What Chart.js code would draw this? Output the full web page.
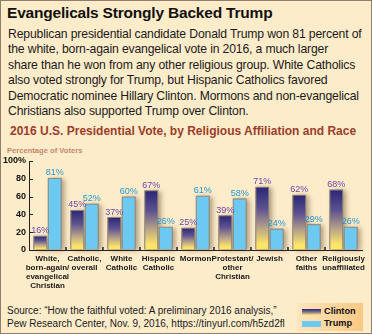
<!DOCTYPE html>
<html>
<head>
<meta charset="utf-8">
<script src="https://cdn.jsdelivr.net/npm/chart.js@4"></script>
<style>
  html, body { margin: 0; padding: 0; }
  body { width: 372px; height: 334px; position: relative; overflow: hidden;
         background: #fdecca; font-family: "Liberation Sans", Arial, sans-serif; }
  #frame { position: absolute; left: 0; top: 0; width: 372px; height: 334px;
           box-sizing: border-box; border: 1px solid #8e7e6c; pointer-events: none; }
  .t { position: absolute; white-space: nowrap; }
  #title { left: 7px; top: 4px; font-size: 15.5px; font-weight: bold; color: #111; letter-spacing: -0.2px; }
  #intro { left: 8px; top: 27px; font-size: 12.2px; line-height: 15.4px; color: #1a1a1a; letter-spacing: -0.15px; }
  #ctitle { left: 10px; top: 124px; font-size: 12px; font-weight: bold; color: #9c3d2b; }
  #ylab { left: 7px; top: 146px; font-size: 7.6px; font-weight: bold; color: #c4876e; }
  #box { position: absolute; left: 0; top: 140px; width: 372px; height: 150px; }
  #source { left: 7px; top: 304px; font-size: 10px; line-height: 13px; color: #1a1a1a; }
  #legend { position: absolute; left: 297px; top: 303px; width: 66px; height: 28px;
            background: linear-gradient(to right, #fde5bd 0%, #fcd7a0 50%, #fbc885 100%); }
  .sw { position: absolute; left: 5px; width: 19px; height: 6px; }
  .lt { position: absolute; left: 27px; font-size: 9.2px; font-weight: bold; color: #111; }
</style>
</head>
<body>
<div class="t" id="title">Evangelicals Strongly Backed Trump</div>
<div class="t" id="intro">Republican presidential candidate Donald Trump won 81 percent of<br>the white, born-again evangelical vote in 2016, a much larger<br>share than he won from any other religious group. White Catholics<br>also voted strongly for Trump, but Hispanic Catholics favored<br>Democratic nominee Hillary Clinton. Mormons and non-evangelical<br>Christians also supported Trump over Clinton.</div>
<div class="t" id="ctitle">2016 U.S. Presidential Vote, by Religious Affiliation and Race</div>
<div class="t" id="ylab">Percentage of Voters</div>
<div id="box"><canvas id="chart" width="372" height="150"></canvas></div>
<div class="t" id="source">Source: “How the faithful voted: A preliminary 2016 analysis,”<br>Pew Research Center, Nov. 9, 2016, https://tinyurl.com/h5zd2fl</div>
<div id="legend">
  <div class="sw" style="top:6px; background: linear-gradient(#2a2576, #7d6f98 50%, #ffe65e);"></div>
  <div class="lt" style="top:3px;">Clinton</div>
  <div class="sw" style="top:18px; background:#6cc9f2;"></div>
  <div class="lt" style="top:15px;">Trump</div>
</div>
<div id="frame"></div>

<script>
const groups = [
  ['White,', 'born-again/', 'evangelical', 'Christian'],
  ['Catholic,', 'overall'],
  ['White', 'Catholic'],
  ['Hispanic', 'Catholic'],
  'Mormon',
  ['Protestant/', 'other', 'Christian'],
  'Jewish',
  ['Other', 'faiths'],
  ['Religiously', 'unaffiliated'],
];
const clinton = [16, 45, 37, 67, 25, 39, 71, 62, 68];
const trump = [81, 52, 60, 26, 61, 58, 24, 29, 26];
const yTicks = [0, 20, 40, 60, 80, 100];

const ctx = document.getElementById('chart');

// Clinton bars fade from navy at the top to yellow at the baseline
function clintonFill(c) {
  const chart = c.chart;
  const y = chart.scales.y;
  if (c.type !== 'data' || !y) return '#5e5390';
  const top = y.getPixelForValue(clinton[c.dataIndex]);
  const bottom = y.getPixelForValue(0);
  if (!isFinite(top) || !isFinite(bottom) || top === bottom) return '#5e5390';
  const g = chart.ctx.createLinearGradient(0, top, 0, bottom);
  g.addColorStop(0, '#2a2576');
  g.addColorStop(0.35, '#5e5390');
  g.addColorStop(0.65, '#b8a388');
  g.addColorStop(0.9, '#fbe36a');
  g.addColorStop(1, '#ffe95e');
  return g;
}

const barDecor = {
  id: 'barDecor',
  beforeDatasetsDraw(chart) {
    const c = chart.ctx;
    c.save();
    c.shadowColor = 'rgba(70, 45, 20, 0.4)';
    c.shadowBlur = 5;
    c.shadowOffsetX = 3;
    c.shadowOffsetY = 1;
    c.fillStyle = '#9a8a70';
    chart.data.datasets.forEach((ds, i) => {
      chart.getDatasetMeta(i).data.forEach(bar => {
        const p = bar.getProps(['x', 'y', 'base', 'width'], true);
        c.fillRect(p.x - p.width / 2, p.y, p.width, p.base - p.y);
      });
    });
    c.restore();
  },
  afterDatasetsDraw(chart) {
    const c = chart.ctx;
    const colors = ['#6b45a8', '#2596cc'];
    c.save();
    c.font = '9px "Liberation Sans Narrow", "Liberation Sans", Arial, sans-serif';
    c.textAlign = 'center';
    c.textBaseline = 'alphabetic';
    chart.data.datasets.forEach((ds, i) => {
      c.fillStyle = colors[i];
      chart.getDatasetMeta(i).data.forEach((bar, j) => {
        c.fillText(ds.data[j] + '%', bar.x, bar.y - 2.5);
      });
    });
    c.restore();
  },
  afterDraw(chart) {
    const c = chart.ctx;
    const x = chart.scales.x, y = chart.scales.y;
    const a = chart.chartArea;
    c.save();
    c.strokeStyle = '#222';
    c.lineWidth = 1;
    // inward ticks on the value axis
    yTicks.forEach(v => {
      const py = Math.round(y.getPixelForValue(v)) + 0.5;
      c.beginPath();
      c.moveTo(a.left, py);
      c.lineTo(a.left + 4, py);
      c.stroke();
    });
    // small marks between the groups
    c.lineWidth = 1.5;
    for (let i = 1; i < groups.length; i++) {
      const px = Math.round((x.getPixelForTick(i - 1) + x.getPixelForTick(i)) / 2);
      c.beginPath();
      c.moveTo(px, a.bottom - 3);
      c.lineTo(px, a.bottom + 1);
      c.stroke();
    }
    c.restore();
  }
};

const chart = new Chart(ctx, {
  type: 'bar',
  data: {
    labels: groups,
    datasets: [
      {
        label: 'Clinton',
        data: clinton,
        backgroundColor: clintonFill,
        borderColor: '#8a847c',
        borderWidth: 1,
        borderSkipped: 'bottom',
      },
      {
        label: 'Trump',
        data: trump,
        backgroundColor: '#6cc9f2',
        borderColor: '#8a8a86',
        borderWidth: 1,
        borderSkipped: 'bottom',
      },
    ],
  },
  options: {
    responsive: false,
    animation: false,
    categoryPercentage: 0.78,
    barPercentage: 0.96,
    layout: {
      padding: { left: 0, right: 10, top: 21, bottom: 0 },
    },
    plugins: {
      legend: { display: false },
      tooltip: { enabled: false },
    },
    scales: {
      x: {
        grid: { display: false, drawTicks: false },
        border: { display: true, color: '#222', width: 1 },
        ticks: {
          color: '#1a1a1a',
          padding: 4,
          maxRotation: 0,
          autoSkip: false,
          font: { family: '"Liberation Sans", Arial, sans-serif', size: 8, weight: 'bold', lineHeight: 1.125 },
        },
        afterFit(scale) { scale.height = 40; },
      },
      y: {
        min: 0,
        max: 100,
        grid: { drawOnChartArea: false, drawTicks: false },
        border: { display: true, color: '#222', width: 1 },
        ticks: {
          stepSize: 20,
          padding: 3,
          color: '#111',
          font: { family: '"Liberation Sans", Arial, sans-serif', size: 9, weight: 'bold' },
          callback: v => v === 100 ? '100%' : v,
        },
        afterFit(scale) { scale.width = 29; },
      },
    },
  },
  plugins: [barDecor],
});
// re-resolve the gradients once the scales have their final size
chart.update();
</script>
</body>
</html>
